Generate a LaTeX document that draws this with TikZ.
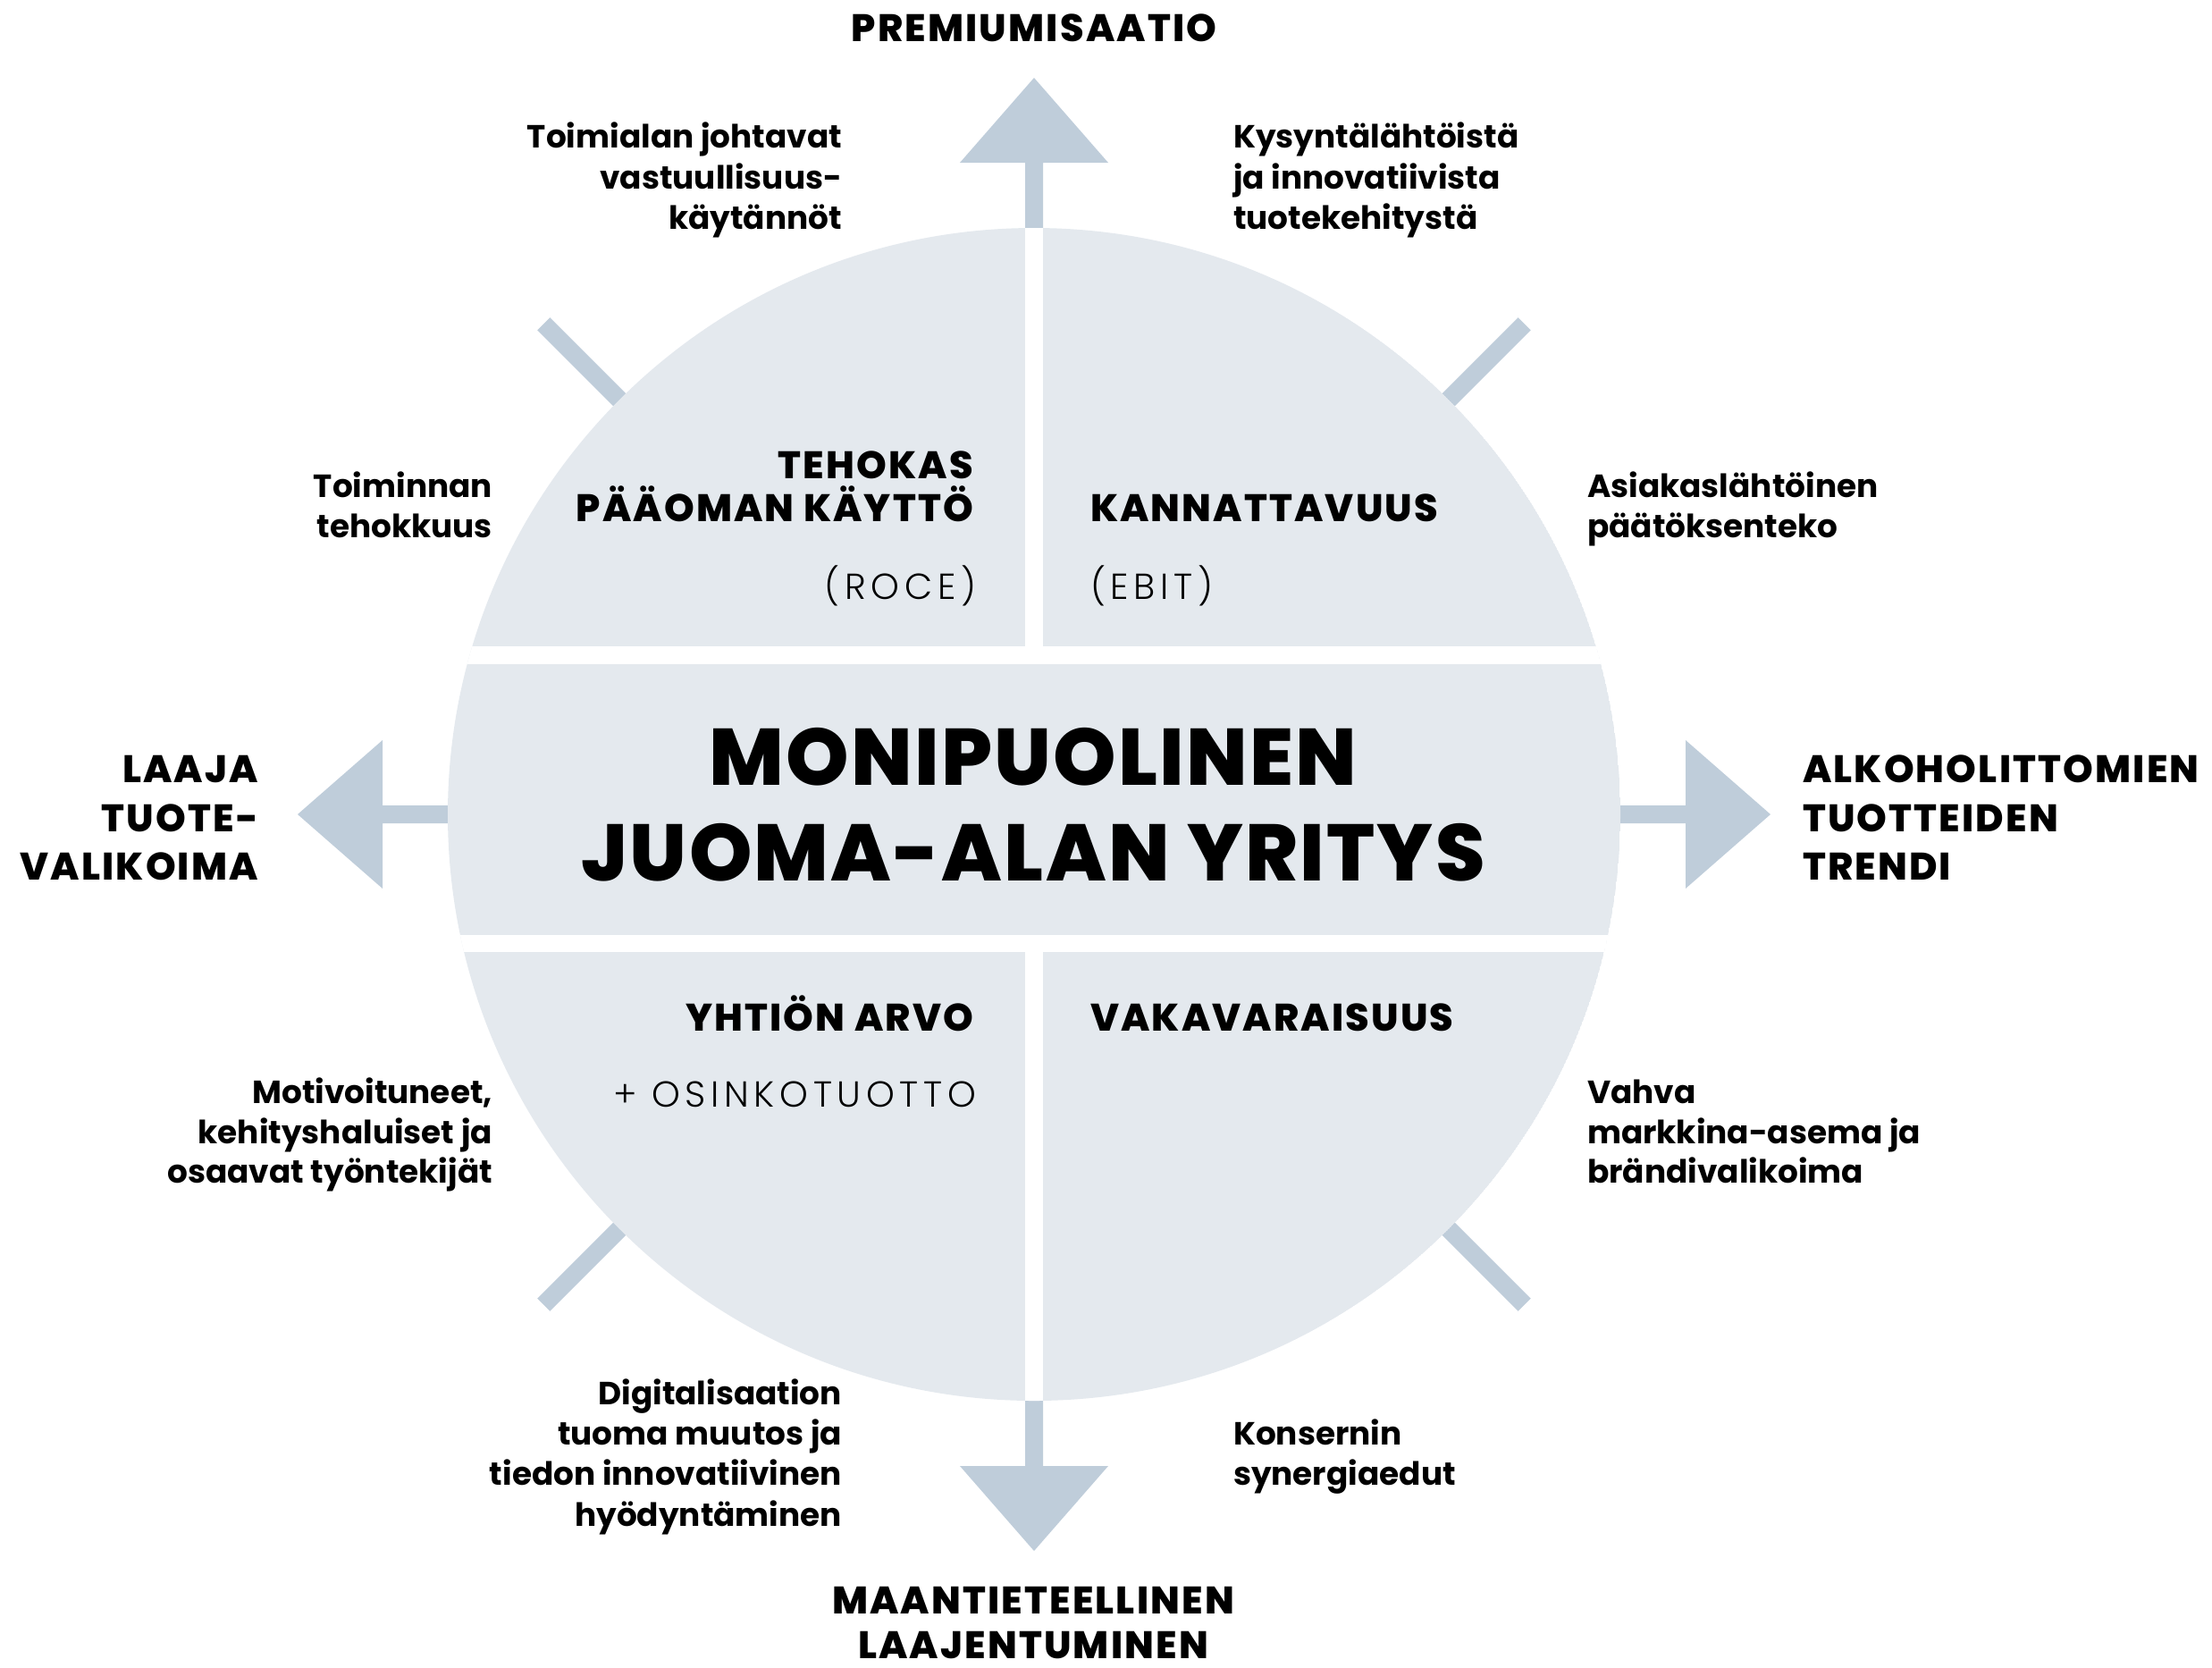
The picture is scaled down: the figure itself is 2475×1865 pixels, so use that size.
\documentclass[tikz,border=0pt]{standalone}
\usepackage{fontspec}
\setmainfont{Poppins}
\newfontfamily\heavyf{Poppins ExtraBold}
\newfontfamily\lightf{Poppins Light}
\usetikzlibrary{calc}
\definecolor{discc}{RGB}{228,233,238}
\definecolor{arrc}{RGB}{191,205,218}
\begin{document}
\begin{tikzpicture}[x=0.01cm,y=-0.01cm,
  txt/.style={inner sep=0pt, outer sep=0pt, font=\fontsize{10.2}{12}\selectfont\bfseries},
  lbl/.style={inner sep=0pt, outer sep=0pt, font=\fontsize{12.2}{14}\heavyf\addfontfeature{LetterSpace=5}},
  ttl/.style={inner sep=0pt, outer sep=0pt, font=\fontsize{25.5}{30}\heavyf\addfontfeature{LetterSpace=2.5}},
  paren/.style={inner sep=0pt, outer sep=0pt, font=\fontsize{11.5}{13}\lightf\addfontfeature{LetterSpace=14}},
  tick/.style={draw=arrc, line width=0.2cm, line cap=butt},
  bigarrow/.pic={\fill[arrc] (600,-10) -- (729,-10) -- (729,-83) -- (824,0) -- (729,83) -- (729,10) -- (600,10) -- cycle;}
]
\useasboundingbox (0,0) rectangle (2475,1865);
\coordinate (C) at (1157,911);
% arrows
\pic[rotate=90] at (C) {bigarrow};
\pic[rotate=-90] at (C) {bigarrow};
\pic[rotate=0] at (C) {bigarrow};
\pic[rotate=180] at (C) {bigarrow};
% ticks
\foreach \a in {45,135,225,315}{
  \draw[tick] ($(C)+(\a:640)$) -- ($(C)+(\a:776)$);
}
% disc
\begin{scope}
  \clip (C) circle[radius=656];
  \fill[discc] (C) circle[radius=656];
  \fill[white] (400,723) rectangle (1900,743);
  \fill[white] (400,1046) rectangle (1900,1065);
  \fill[white] (1147,200) rectangle (1167,723);
  \fill[white] (1147,1065) rectangle (1167,1600);
\end{scope}
% main title
\node[ttl, anchor=base] (t1) at (1156,878) {MONIPUOLINEN};
\node[ttl, anchor=base] (t2) at (1156,985) {JUOMA-ALAN YRITYS};
% quadrant headings
\node[lbl, anchor=base east] (q1a) at (1089,535) {TEHOKAS};
\node[lbl, anchor=base east] (q1b) at (1089,583) {PÄÄOMAN KÄYTTÖ};
\node[paren, anchor=base east] (q1c) at (1092,670) {(ROCE)};
\node[lbl, anchor=base west] (q2a) at (1220,583) {KANNATTAVUUS};
\node[paren, anchor=base west] (q2b) at (1220,670) {(EBIT)};
\node[lbl, anchor=base east] (q3a) at (1089,1153) {YHTIÖN ARVO};
\node[paren, anchor=base east] (q3b) at (1092,1238) {+ OSINKOTUOTTO};
\node[lbl, anchor=base west] (q4a) at (1220,1153) {VAKAVARAISUUS};
% outer labels
\node[lbl, anchor=base] (top) at (1157,46) {PREMIUMISAATIO};
\node[lbl, anchor=base east] (l1) at (289,875) {LAAJA};
\node[lbl, anchor=base east] (l2) at (289,930) {TUOTE-};
\node[lbl, anchor=base east] (l3) at (289,984) {VALIKOIMA};
\node[lbl, anchor=base west] (r1) at (2017,875) {ALKOHOLITTOMIEN};
\node[lbl, anchor=base west] (r2) at (2017,930) {TUOTTEIDEN};
\node[lbl, anchor=base west] (r3) at (2017,984) {TRENDI};
\node[lbl, anchor=base] (b1) at (1156,1805) {MAANTIETEELLINEN};
\node[lbl, anchor=base] (b2) at (1156,1855) {LAAJENTUMINEN};
% small texts
\node[txt, anchor=base east] (a1) at (942,165) {Toimialan johtavat};
\node[txt, anchor=base east] (a2) at (942,211) {vastuullisuus-};
\node[txt, anchor=base east] (a3) at (942,256) {käytännöt};
\node[txt, anchor=base west] (b1s) at (1380,165) {Kysyntälähtöistä};
\node[txt, anchor=base west] (b2s) at (1380,211) {ja innovatiivista};
\node[txt, anchor=base west] (b3s) at (1380,256) {tuotekehitystä};
\node[txt, anchor=base east] (c1) at (551,556) {Toiminnan};
\node[txt, anchor=base east] (c2) at (551,601) {tehokkuus};
\node[txt, anchor=base west] (d1) at (1776,556) {Asiakaslähtöinen};
\node[txt, anchor=base west] (d2) at (1776,601) {päätöksenteko};
\node[txt, anchor=base east] (e1) at (551,1234) {Motivoituneet,};
\node[txt, anchor=base east] (e2) at (551,1279) {kehityshaluiset ja};
\node[txt, anchor=base east] (e3) at (551,1323) {osaavat työntekijät};
\node[txt, anchor=base west] (f1) at (1776,1234) {Vahva};
\node[txt, anchor=base west] (f2) at (1776,1279) {markkina-asema ja};
\node[txt, anchor=base west] (f3) at (1776,1323) {brändivalikoima};
\node[txt, anchor=base east] (g1) at (942,1571) {Digitalisaation};
\node[txt, anchor=base east] (g2) at (942,1616) {tuoma muutos ja};
\node[txt, anchor=base east] (g3) at (942,1661) {tiedon innovatiivinen};
\node[txt, anchor=base east] (g4) at (942,1707) {hyödyntäminen};
\node[txt, anchor=base west] (h1) at (1380,1616) {Konsernin};
\node[txt, anchor=base west] (h2) at (1380,1661) {synergiaedut};
\end{tikzpicture}
\end{document}
